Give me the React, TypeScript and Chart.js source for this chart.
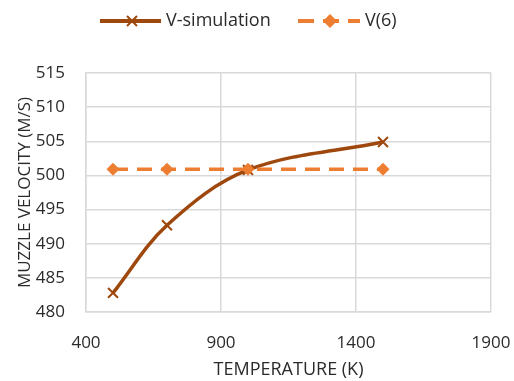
import React, { useEffect, useRef } from "react";
import { Chart, registerables } from "chart.js";

Chart.register(...registerables);

const temperatures = [500, 700, 1000, 1500];
const vSimulation = [482.8, 492.7, 500.8, 504.9];
const v6 = [500.9, 500.9, 500.9, 500.9];
const seriesNames = ["V-simulation", "V(6)"];
const xTitle = "TEMPERATURE (K)";
const yTitle = "MUZZLE VELOCITY (M/S)";

const BROWN = "#9E480E";
const ORANGE = "#ED7D31";
const TEXT = "#2b2b2b";
const GRID = "#D9D9D9";
const FONT = "'Open Sans', 'Liberation Sans', sans-serif";

const legendPlugin = {
  id: "customLegend",
  afterDraw(chart: any) {
    const ctx = chart.ctx as CanvasRenderingContext2D;
    ctx.save();
    const y = 21;
    ctx.font = `18px ${FONT}`;
    ctx.fillStyle = TEXT;
    ctx.textBaseline = "middle";
    ctx.textAlign = "left";
    // item 1
    let x = 100;
    ctx.strokeStyle = BROWN;
    ctx.lineWidth = 4;
    ctx.lineCap = "butt";
    ctx.beginPath();
    ctx.moveTo(x, y);
    ctx.lineTo(x + 61, y);
    ctx.stroke();
    const cx = x + 32;
    ctx.lineWidth = 2;
    ctx.beginPath();
    ctx.moveTo(cx - 5, y - 5);
    ctx.lineTo(cx + 5, y + 5);
    ctx.moveTo(cx + 5, y - 5);
    ctx.lineTo(cx - 5, y + 5);
    ctx.stroke();
    ctx.fillText(seriesNames[0], x + 66, y);
    x = 298;
    // item 2
    ctx.strokeStyle = ORANGE;
    ctx.lineWidth = 4;
    ctx.setLineDash([16, 9]);
    ctx.beginPath();
    ctx.moveTo(x, y);
    ctx.lineTo(x + 62, y);
    ctx.stroke();
    ctx.setLineDash([]);
    const dx = x + 32;
    ctx.fillStyle = ORANGE;
    ctx.beginPath();
    ctx.moveTo(dx, y - 7);
    ctx.lineTo(dx + 7, y);
    ctx.lineTo(dx, y + 7);
    ctx.lineTo(dx - 7, y);
    ctx.closePath();
    ctx.fill();
    ctx.fillStyle = TEXT;
    ctx.fillText(seriesNames[1], x + 67, y);
    ctx.restore();
  },
};

export default function App() {
  const ref = useRef<HTMLCanvasElement>(null);
  useEffect(() => {
    if (!ref.current) return;
    const chart = new Chart(ref.current, {
      type: "line",
      data: {
        datasets: [
          {
            label: seriesNames[0],
            data: temperatures.map((t, i) => ({ x: t, y: vSimulation[i] })),
            borderColor: BROWN,
            backgroundColor: BROWN,
            borderWidth: 3.5,
            tension: 0.35,
            pointStyle: "crossRot",
            pointRadius: 7,
            pointBorderWidth: 2,
            pointBorderColor: BROWN,
            order: 1,
          },
          {
            label: seriesNames[1],
            data: temperatures.map((t, i) => ({ x: t, y: v6[i] })),
            borderColor: ORANGE,
            backgroundColor: ORANGE,
            borderWidth: 3.5,
            borderDash: [15, 9],
            tension: 0,
            pointStyle: "rectRot",
            pointRadius: 6,
            pointBorderWidth: 1,
            pointBorderColor: ORANGE,
            pointBackgroundColor: ORANGE,
            order: 0,
          },
        ],
      },
      options: {
        responsive: false,
        animation: false,
        layout: { padding: { top: 73, right: 23, left: 0, bottom: 0 } },
        plugins: { legend: { display: false }, tooltip: { enabled: false } },
        scales: {
          x: {
            type: "linear",
            min: 400,
            max: 1900,
            ticks: {
              stepSize: 500,
              color: TEXT,
              font: { family: FONT, size: 17 },
              padding: 21,
              maxRotation: 0,
              callback: (v: any) => String(v),
            },
            grid: { color: GRID, lineWidth: 1.5, drawTicks: false },
            border: { color: GRID, width: 1.5 },
            title: { display: true, text: xTitle, color: TEXT, font: { family: FONT, size: 18 }, padding: { top: 0, bottom: 0 } },
            afterFit: (s: any) => {
              s.height = 69;
              s.paddingLeft = 0;
              s.paddingRight = 0;
            },
          },
          y: {
            min: 480,
            max: 515,
            ticks: { stepSize: 5, color: TEXT, font: { family: FONT, size: 17 }, padding: 21, callback: (v: any) => String(v) },
            grid: { color: GRID, lineWidth: 1.5, drawTicks: false },
            border: { color: GRID, width: 1.5 },
            title: { display: true, text: yTitle, color: TEXT, font: { family: FONT, size: 17 }, padding: { top: 15, bottom: 0 } },
            afterFit: (s: any) => {
              s.width = 86;
              s.paddingTop = 0;
              s.paddingBottom = 0;
            },
          },
        },
      },
      plugins: [legendPlugin],
    });
    return () => chart.destroy();
  }, []);
  return (
    <div style={{ position: "absolute", left: 0, top: 0, width: 514, height: 381, background: "#fff" }}>
      <canvas ref={ref} width={514} height={381} style={{ display: "block" }} />
    </div>
  );
}
